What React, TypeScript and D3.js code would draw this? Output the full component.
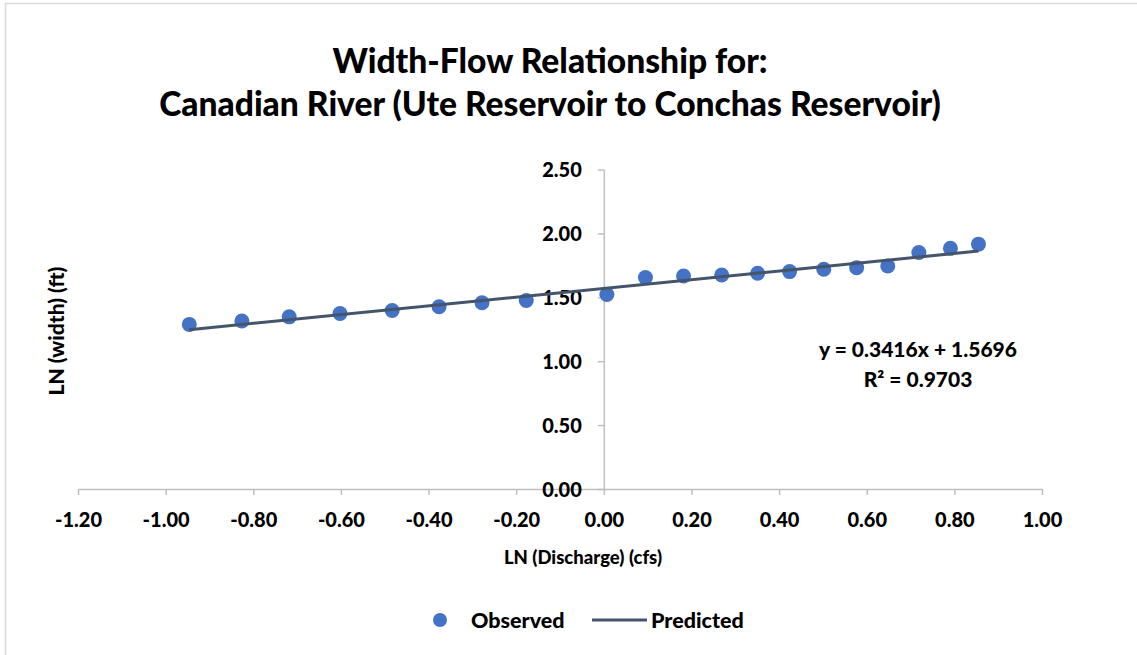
import React from 'react';
import * as d3 from 'd3';

// observed points: LN(discharge) vs LN(width)
const lnDischarge = [-0.946, -0.826, -0.718, -0.602, -0.483, -0.376, -0.278, -0.177, 0.007, 0.095, 0.182, 0.269, 0.351, 0.424, 0.502, 0.577, 0.648, 0.719, 0.791, 0.855];
const lnWidth = [1.288, 1.314, 1.347, 1.373, 1.397, 1.426, 1.457, 1.475, 1.522, 1.654, 1.667, 1.675, 1.688, 1.701, 1.719, 1.732, 1.745, 1.850, 1.883, 1.916];

const slope = 0.3416;
const intercept = 1.5696;
const rSquared = 0.9703;

const xTicks = [-1.2, -1.0, -0.8, -0.6, -0.4, -0.2, 0, 0.2, 0.4, 0.6, 0.8, 1.0];
const yTicks = [0, 0.5, 1.0, 1.5, 2.0, 2.5];

const titleLines = ['Width-Flow Relationship for:', 'Canadian River (Ute Reservoir to Conchas Reservoir)'];

const FONT = 'Lato, "Open Sans", sans-serif';
const WEIGHT = 900;
const W = 1137, H = 655;

// plain hyphen for negatives, like the spreadsheet does
const fmt = (d: any) => (+d).toFixed(2);

function App() {
  const parentRef = React.useRef<SVGSVGElement>(null);

  React.useEffect(() => {
    var svg = d3.select(parentRef.current);
    svg.selectAll('*').remove();

    var x = d3.scaleLinear().domain([-1.2, 1.0]).range([78, 1042]);
    var y = d3.scaleLinear().domain([0, 2.5]).range([489, 169.5]);

    // chart frame
    svg.append('rect')
      .attr('x', 5.5).attr('y', 3.5)
      .attr('width', W + 10).attr('height', H + 10)
      .attr('fill', 'white')
      .attr('stroke', '#d9d9d9')
      .attr('stroke-width', 1.5);

    // title
    svg.append('text')
      .attr('x', 550).attr('y', 73)
      .attr('text-anchor', 'middle')
      .attr('font-family', FONT)
      .attr('font-weight', WEIGHT)
      .attr('font-size', 33.6)
      .selectAll('tspan')
      .data(titleLines)
      .enter()
      .append('tspan')
      .attr('x', 550)
      .attr('dy', (d, i) => i === 0 ? 0 : 43)
      .text(d => d);

    // x axis at y = 0
    var xAxis = svg.append('g')
      .attr('transform', 'translate(0,' + y(0) + ')')
      .call(d3.axisBottom(x).tickValues(xTicks).tickSize(6).tickSizeOuter(0).tickFormat(fmt));
    xAxis.select('.domain').attr('stroke', '#bfbfbf').attr('stroke-width', 1.5);
    xAxis.selectAll('.tick line').attr('stroke', '#bfbfbf').attr('stroke-width', 1.5);
    xAxis.selectAll('.tick text')
      .attr('y', 38)
      .attr('dy', 0)
      .attr('fill', '#000')
      .attr('font-family', FONT)
      .attr('font-weight', WEIGHT)
      .attr('font-size', 20);

    // y axis at x = 0
    var yAxis = svg.append('g')
      .attr('transform', 'translate(' + x(0) + ',0)')
      .call(d3.axisLeft(y).tickValues(yTicks).tickSize(6).tickSizeOuter(0).tickFormat(fmt));
    yAxis.select('.domain').attr('stroke', '#bfbfbf').attr('stroke-width', 1.5);
    yAxis.selectAll('.tick line').attr('stroke', '#bfbfbf').attr('stroke-width', 1.5);
    yAxis.selectAll('.tick text')
      .attr('x', -22)
      .attr('dy', '0.36em')
      .attr('fill', '#000')
      .attr('font-family', FONT)
      .attr('font-weight', WEIGHT)
      .attr('font-size', 20);

    // axis titles
    svg.append('text')
      .attr('x', 583).attr('y', 564)
      .attr('text-anchor', 'middle')
      .attr('font-family', FONT)
      .attr('font-weight', WEIGHT)
      .attr('font-size', 18.5)
      .text('LN (Discharge) (cfs)');

    svg.append('text')
      .attr('transform', 'translate(64,331) rotate(-90)')
      .attr('text-anchor', 'middle')
      .attr('font-family', FONT)
      .attr('font-weight', WEIGHT)
      .attr('font-size', 21)
      .text('LN (width) (ft)');

    var pts = lnDischarge.map((d, i) => [d, lnWidth[i]]);

    // observed
    svg.selectAll('circle.obs')
      .data(pts)
      .enter()
      .append('circle')
      .attr('class', 'obs')
      .attr('cx', d => x(d[0]))
      .attr('cy', d => y(d[1]))
      .attr('r', 7.5)
      .attr('fill', '#4472c4');

    // predicted (trend line)
    var xExt = d3.extent(lnDischarge) as [number, number];
    var line = d3.line<number>()
      .x(d => x(d))
      .y(d => y(slope * d + intercept));
    svg.append('path')
      .datum(xExt)
      .attr('d', line)
      .attr('fill', 'none')
      .attr('stroke', '#44546a')
      .attr('stroke-width', 3);

    // equation
    var eq = svg.append('text')
      .attr('text-anchor', 'middle')
      .attr('font-family', FONT)
      .attr('font-weight', WEIGHT)
      .attr('font-size', 21)
      .attr('fill', '#000');
    eq.append('tspan').attr('x', 918).attr('y', 357)
      .text('y = ' + slope.toFixed(4) + 'x + ' + intercept.toFixed(4));
    eq.append('tspan').attr('x', 918).attr('y', 387)
      .text('R² = ' + rSquared.toFixed(4));

    // legend
    var legend = svg.append('g').attr('transform', 'translate(0,620)');
    legend.append('circle').attr('cx', 440).attr('cy', 0).attr('r', 7).attr('fill', '#4472c4');
    legend.append('text').attr('x', 471).attr('y', 0).attr('dy', '0.35em')
      .attr('font-family', FONT).attr('font-weight', WEIGHT).attr('font-size', 21.5)
      .text('Observed');
    legend.append('line').attr('x1', 592).attr('x2', 647).attr('y1', 0).attr('y2', 0)
      .attr('stroke', '#44546a').attr('stroke-width', 3);
    legend.append('text').attr('x', 651).attr('y', 0).attr('dy', '0.35em')
      .attr('font-family', FONT).attr('font-weight', WEIGHT).attr('font-size', 21.5)
      .text('Predicted');
  }, []);

  return (
    <svg ref={parentRef} width={W} height={H}
      style={{ position: 'absolute', left: 0, top: 0, background: 'white' }} />
  );
}

export default App;
